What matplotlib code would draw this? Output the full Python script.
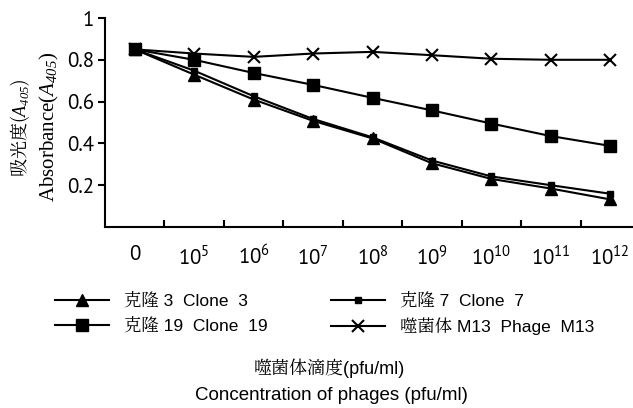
import matplotlib
matplotlib.use("Agg")
import matplotlib.pyplot as plt
from matplotlib.lines import Line2D

# --- data ---
conc_labels = ["0", "$10^{5}$", "$10^{6}$", "$10^{7}$", "$10^{8}$",
               "$10^{9}$", "$10^{10}$", "$10^{11}$", "$10^{12}$"]
clone3 = [0.85, 0.729, 0.61, 0.508, 0.424, 0.305, 0.23, 0.184, 0.132]
clone7 = [0.85, 0.748, 0.626, 0.517, 0.429, 0.318, 0.242, 0.20, 0.159]
clone19 = [0.85, 0.80, 0.737, 0.68, 0.618, 0.558, 0.495, 0.435, 0.388]
phage_m13 = [0.85, 0.83, 0.814, 0.83, 0.838, 0.822, 0.805, 0.80, 0.80]
y_ticks = [0.2, 0.4, 0.6, 0.8, 1.0]
y_ticklabels = ["0.2", "0.4", "0.6", "0.8", "1"]
legend_col1 = ["克隆 3  Clone  3", "克隆 19  Clone  19"]
legend_col2 = ["克隆 7  Clone  7", "噬菌体 M13  Phage  M13"]

tick_font = "PT Sans"
plt.rcParams["mathtext.fontset"] = "custom"
plt.rcParams["mathtext.rm"] = tick_font
plt.rcParams["mathtext.sf"] = "Liberation Serif:italic"
sans = ["Liberation Sans", "Noto Serif CJK JP", "DejaVu Sans"]
cjk_serif = ["Noto Serif CJK JP", "Liberation Serif", "DejaVu Sans"]

fig = plt.figure(figsize=(6.33, 4.08), dpi=100)
# axes runs past the right edge, like the original (10^12 is clipped)
ax = fig.add_axes([105 / 633, 1 - 227 / 408, 535 / 633, 209 / 408])

x = list(range(len(conc_labels)))
lw = 1.5
ax.plot(x, phage_m13, color="black", lw=lw, marker="x", ms=8, mew=1.5)
ax.plot(x, clone19, color="black", lw=lw, marker="s", ms=8)
ax.plot(x, clone7, color="black", lw=lw, marker="s", ms=5)
ax.plot(x, clone3, color="black", lw=lw, marker="^", ms=8)

ax.set_xlim(-0.5, 8.5)
ax.set_ylim(0, 1)
ax.spines["top"].set_visible(False)
ax.spines["right"].set_visible(False)
for s in ("left", "bottom"):
    ax.spines[s].set_linewidth(1.5)

ax.set_yticks(y_ticks)
ax.set_yticklabels(y_ticklabels, fontfamily=tick_font, fontsize=15)
ax.tick_params(axis="y", direction="out", length=5, width=1.5, pad=3)

ax.set_xticks([i + 0.5 for i in range(len(conc_labels) - 1)])
ax.set_xticklabels([])
ax.tick_params(axis="x", direction="in", length=5, width=1.5)
for i, lab in enumerate(conc_labels):
    ax.text(i, -0.085, lab, ha="center", va="top", fontsize=15,
            fontfamily=tick_font, clip_on=False)

# y-axis label, two lines
fig.text(20 / 633, 1 - 128 / 408, r"吸光度($\mathsf{A}_{\mathsf{405}}$)",
         rotation=90, ha="center", va="center", fontsize=13, family=cjk_serif)
fig.text(49 / 633, 1 - 127 / 408, r"Absorbance($\mathsf{A}_{\mathsf{405}}$)",
         rotation=90, ha="center", va="center", fontsize=15,
         family="Liberation Serif")

# legend: two single-column legends so each column sits where it should
h3 = Line2D([], [], color="black", lw=lw, marker="^", ms=8)
h19 = Line2D([], [], color="black", lw=lw, marker="s", ms=8)
h7 = Line2D([], [], color="black", lw=lw, marker="s", ms=5)
hm13 = Line2D([], [], color="black", lw=lw, marker="x", ms=8, mew=1.5)
leg_kw = dict(loc="upper left", frameon=False, borderpad=0, handlelength=3.1,
              handletextpad=0.9, labelspacing=0.5,
              prop={"family": sans, "size": 12.5})
fig.legend([h3, h19], legend_col1,
           bbox_to_anchor=(46 / 633, 1 - 284 / 408), **leg_kw)
fig.legend([h7, hm13], legend_col2,
           bbox_to_anchor=(322 / 633, 1 - 284 / 408), **leg_kw)

# x-axis label, two lines
fig.text(329 / 633, 1 - 368 / 408, "噬菌体滴度(pfu/ml)", ha="center",
         va="center", fontsize=13, family=sans)
fig.text(331 / 633, 1 - 395 / 408, "Concentration of phages (pfu/ml)",
         ha="center", va="center", fontsize=13.5, family=sans)

fig.savefig("out.png", dpi=100)
